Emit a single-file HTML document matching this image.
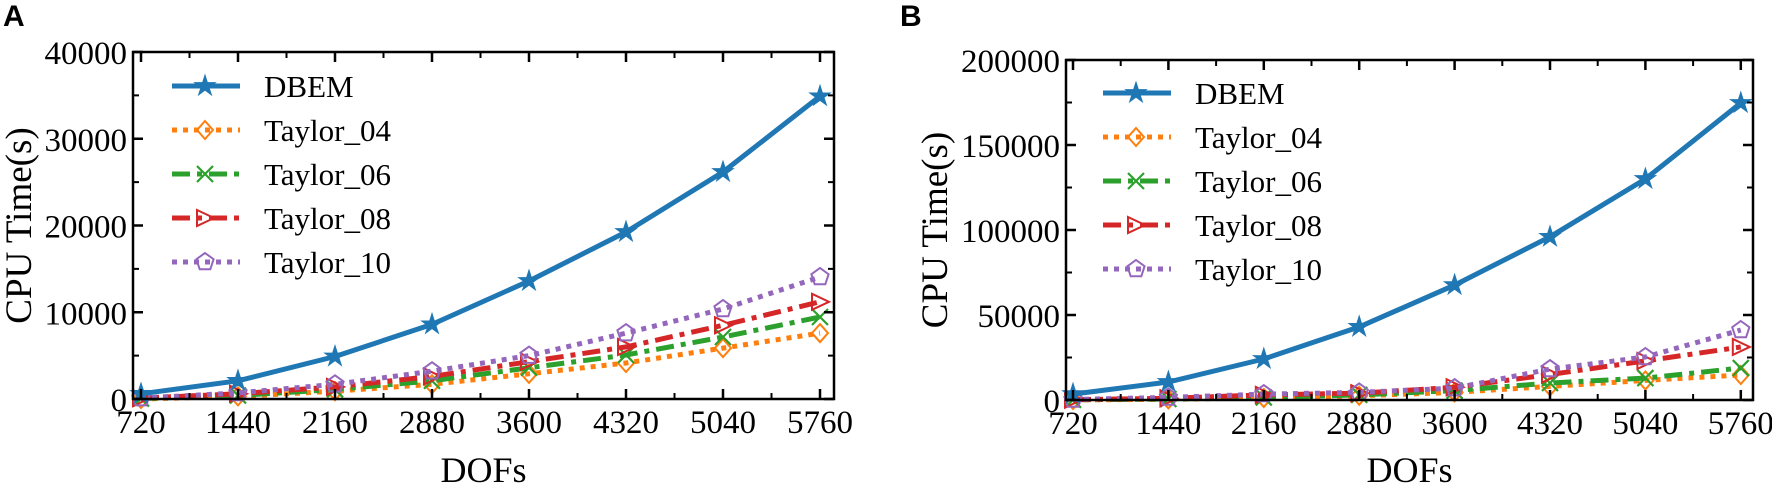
<!DOCTYPE html>
<html><head><meta charset="utf-8"><style>
html,body{margin:0;padding:0;background:#fff;}
svg{display:block;}
text{font-family:"Liberation Serif",serif;fill:#000;}
.pl{font-family:"Liberation Sans",sans-serif;font-weight:bold;font-size:30px;}
</style></head><body>
<svg id="s" width="1772" height="485" xmlns="http://www.w3.org/2000/svg"></svg>
<script>
const S=document.getElementById('s');let h='';
const C={D:'#1f77b4',T4:'#ff7f0e',T6:'#2ca02c',T8:'#d62728',T10:'#9467bd'};
const sty={D:'',T4:'5,6',T6:'18,7,5,7',T8:'18,7,5,7',T10:'5,6'};
const names={D:'DBEM',T4:'Taylor_04',T6:'Taylor_06',T8:'Taylor_08',T10:'Taylor_10'};
function marker(k,x,y){const c=C[k];
 if(k=='D'){let p=[];for(let i=0;i<10;i++){const r=i%2?3.8:10,a=-Math.PI/2+i*Math.PI/5;p.push((x+r*Math.cos(a)).toFixed(1)+','+(y+r*Math.sin(a)).toFixed(1));}return `<polygon points="${p}" fill="${c}" stroke="${c}" stroke-width="1.5"/>`;}
 if(k=='T4')return `<polygon points="${x},${y-9} ${x+8},${y} ${x},${y+9} ${x-8},${y}" fill="none" stroke="${c}" stroke-width="2"/>`;
 if(k=='T6')return `<path d="M${x-8} ${y-8}L${x+8} ${y+8}M${x-8} ${y+8}L${x+8} ${y-8}" stroke="${c}" stroke-width="2.2"/>`;
 if(k=='T8')return `<polygon points="${x-8},${y-8} ${x+9},${y} ${x-8},${y+8}" fill="none" stroke="${c}" stroke-width="2"/>`;
 let p=[];for(let i=0;i<5;i++){const a=-Math.PI/2+i*2*Math.PI/5;p.push((x+9*Math.cos(a)).toFixed(1)+','+(y+9*Math.sin(a)).toFixed(1));}
 return `<polygon points="${p}" fill="none" stroke="${c}" stroke-width="2"/>`;}
function panel(P){
 const {L,R,T,B,x0,dx,ymax,ystep,data,leg,lab}=P;
 const X=i=>x0+i*dx, Y=v=>B-(v/ymax)*(B-T);
 for(const k of ['T4','T6','T8','T10','D']){
  const d=data[k];h+=`<polyline points="${d.map((v,i)=>X(i).toFixed(1)+','+Y(v).toFixed(1)).join(' ')}" fill="none" stroke="${C[k]}" stroke-width="5" stroke-dasharray="${sty[k]}" stroke-linejoin="round"/>`;
  d.forEach((v,i)=>h+=marker(k,X(i),Y(v)));}
 h+=`<rect x="${L}" y="${T}" width="${R-L}" height="${B-T}" fill="none" stroke="#000" stroke-width="2.5"/>`;
 const xl=[720,1440,2160,2880,3600,4320,5040,5760];
 for(let i=0;i<8;i++){const x=X(i);h+=`<path d="M${x} ${B}v-10M${x} ${T}v10" stroke="#000" stroke-width="2.5"/>`;
  h+=`<text x="${x}" y="${B+34}" font-size="33" text-anchor="middle">${xl[i]}</text>`;
  if(i<7){const xm=x+dx/2;h+=`<path d="M${xm} ${B}v-6M${xm} ${T}v6" stroke="#000" stroke-width="2"/>`;}}
 for(let v=0;v<=ymax;v+=ystep){const y=Y(v);h+=`<path d="M${L} ${y}h10M${R} ${y}h-10" stroke="#000" stroke-width="2.5"/>`;
  h+=`<text x="${L-6}" y="${y+12}" font-size="33" text-anchor="end">${v}</text>`;
  if(v<ymax){const ym=Y(v+ystep/2);h+=`<path d="M${L} ${ym}h6M${R} ${ym}h-6" stroke="#000" stroke-width="2"/>`;}}
 h+=`<text x="${(L+R)/2}" y="482" font-size="36" text-anchor="middle">DOFs</text>`;
 h+=`<text transform="translate(${P.ytx},${(T+B)/2}) rotate(-90)" font-size="37" text-anchor="middle">CPU Time(s)</text>`;
 h+=`<text class="pl" x="${lab[0]}" y="${lab[1]}">${P.name}</text>`;
 ['D','T4','T6','T8','T10'].forEach((k,i)=>{const y=leg.y+i*leg.dy;
  h+=`<line x1="${leg.x}" y1="${y}" x2="${leg.x+68}" y2="${y}" stroke="${C[k]}" stroke-width="5" stroke-dasharray="${sty[k]}"/>`;
  h+=marker(k,leg.x+33,y);
  h+=`<text x="${leg.x+92}" y="${y+11}" font-size="31">${names[k]}</text>`;});
}
panel({name:'A',L:133,R:834,T:52,B:399,x0:141,dx:97,ymax:40000,ystep:10000,lab:[3,26],ytx:31,
 leg:{x:172,y:86,dy:44},
 data:{D:[600,2100,4900,8600,13600,19250,26170,34900],
 T4:[0,300,900,1700,2900,4150,5870,7600],
 T6:[50,400,1100,2100,3600,5070,7150,9450],
 T8:[100,600,1400,2600,4300,6000,8500,11200],
 T10:[100,700,1700,3200,5000,7600,10370,14060]}});
panel({name:'B',L:1066,R:1753,T:60,B:400,x0:1073,dx:95.4,ymax:200000,ystep:50000,lab:[900,26],ytx:947,
 leg:{x:1103,y:93,dy:44},
 data:{D:[3500,10600,24100,43000,67600,96000,130000,174700],
 T4:[0,400,1200,2500,4500,8000,11500,14700],
 T6:[100,600,1500,3000,5500,10000,12900,18800],
 T8:[200,1000,3000,4000,7500,15000,23000,31200],
 T10:[300,1500,3500,4500,7000,18200,25300,41200]}});
S.innerHTML=h;
</script>
</body></html>
